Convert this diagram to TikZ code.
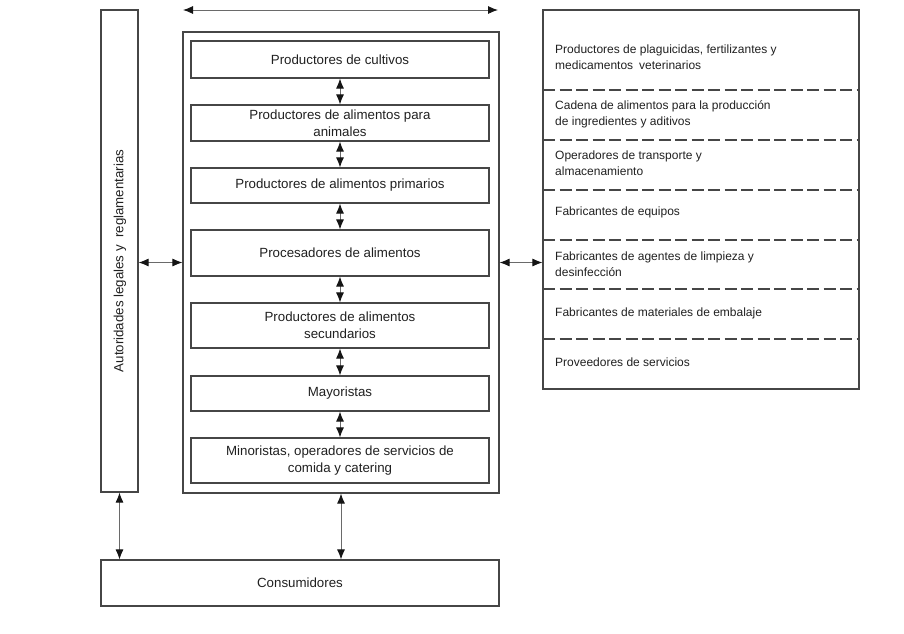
\documentclass[tikz,border=0pt]{standalone}
\usepackage{fontspec}
\setmainfont{Liberation Sans}
\usetikzlibrary{arrows.meta,calc}
\definecolor{linec}{HTML}{464646}
\definecolor{arrc}{HTML}{6A6A6A}
\definecolor{tipc}{HTML}{151515}
\definecolor{txtc}{HTML}{202020}
\tikzset{
  box/.style={draw=linec, line width=1.2pt, inner sep=0pt, text=txtc, align=center,
    font=\fontsize{13.3}{17}\selectfont},
  frame/.style={draw=linec, line width=1.2pt, inner sep=0pt},
  tipshape/.tip={Latex[length=10pt,width=8pt,color=tipc]},
  arr/.style={draw=arrc, line width=0.9pt, tipshape-tipshape},
  sideline/.style={draw=linec, line width=1.4pt, dash pattern=on 12pt off 4.5pt},
  sidetext/.style={anchor=west, inner sep=0pt, align=left, text=txtc,
    font=\fontsize{12}{16}\selectfont}
}
\begin{document}
\begin{tikzpicture}[x=1pt,y=-1pt]
\useasboundingbox (0,0) rectangle (904,633);
% left authority column
\node[box, minimum width=37pt, minimum height=482pt] (L) at (119.5,251) {};
\node[rotate=90, text=txtc, font=\fontsize{13.3}{17}\selectfont, inner sep=0pt] (Lt) at (120,261) {Autoridades legales y\hspace{0.55em}reglamentarias};
% outer chain box
\node[frame, minimum width=316pt, minimum height=461pt] (M) at (341,262.5) {};
\node[box, minimum width=298pt, minimum height=37pt] (b1) at (340,59.5) {Productores de cultivos};
\node[box, minimum width=298pt, minimum height=36pt] (b2) at (340,123) {Productores de alimentos para\\animales};
\node[box, minimum width=298pt, minimum height=35pt] (b3) at (340,185.5) {Productores de alimentos primarios};
\node[box, minimum width=298pt, minimum height=46pt] (b4) at (340,253) {Procesadores de alimentos};
\node[box, minimum width=298pt, minimum height=45pt] (b5) at (340,325.5) {Productores de alimentos\\secundarios};
\node[box, minimum width=298pt, minimum height=35pt] (b6) at (340,393.5) {Mayoristas};
\node[box, minimum width=298pt, minimum height=45pt] (b7) at (340,460.5) {Minoristas, operadores de servicios de\\comida y catering};
% consumers
\node[box, minimum width=398pt, minimum height=46pt] (C) at (300,583) {Consumidores};
% right column
\node[frame, minimum width=316pt, minimum height=379pt] (R) at (701,199.5) {};
\draw[sideline] (543,90) -- (859,90);
\draw[sideline] (543,140) -- (859,140);
\draw[sideline] (543,190) -- (859,190);
\draw[sideline] (543,240) -- (859,240);
\draw[sideline] (543,289) -- (859,289);
\draw[sideline] (543,339) -- (859,339);
\node[sidetext] (r1) at (555,57) {Productores de plaguicidas, fertilizantes y\\medicamentos\hspace{0.5em}veterinarios};
\node[sidetext] (r2) at (555,114) {Cadena de alimentos para la producción\\de ingredientes y aditivos};
\node[sidetext] (r3) at (555,163) {Operadores de transporte y\\almacenamiento};
\node[sidetext] (r4) at (555,212) {Fabricantes de equipos};
\node[sidetext] (r5) at (555,264) {Fabricantes de agentes de limpieza y\\desinfección};
\node[sidetext] (r6) at (555,313) {Fabricantes de materiales de embalaje};
\node[sidetext] (r7) at (555,362) {Proveedores de servicios};
% top arrow
\coordinate (ta) at (183,10);
\coordinate (tb) at (498,10);
\draw[arr] (ta) -- (tb);
% chain arrows
\draw[arr] (b1.south) -- (b2.north);
\draw[arr] (b2.south) -- (b3.north);
\draw[arr] (b3.south) -- (b4.north);
\draw[arr] (b4.south) -- (b5.north);
\draw[arr] (b5.south) -- (b6.north);
\draw[arr] (b6.south) -- (b7.north);
% side arrows
\draw[arr] (L.east |- M.center) -- (M.west);
\draw[arr] (M.east) -- (R.west |- M.center);
% to consumers
\draw[arr] (L.south) -- (L.south |- C.north);
\draw[arr] (M.south) -- (M.south |- C.north);
\end{tikzpicture}
\end{document}
